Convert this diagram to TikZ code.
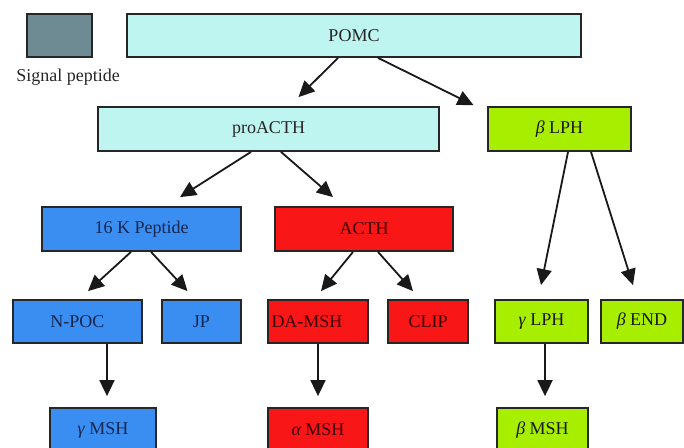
\documentclass[tikz,border=0pt]{standalone}
\usepackage{fontspec}
\setmainfont{Liberation Serif}
\usetikzlibrary{arrows.meta}
\definecolor{cyanbox}{HTML}{BFF5F1}
\definecolor{greybox}{HTML}{6E8A93}
\definecolor{bluebox}{HTML}{3A8EF2}
\definecolor{redbox}{HTML}{F81616}
\definecolor{greenbox}{HTML}{A8EE00}
\definecolor{bluetext}{HTML}{15264F}
\definecolor{redtext}{HTML}{3A0000}
\tikzset{
  box/.style={draw=black!85, line width=1.8pt, rectangle, inner sep=0pt,
    font=\fontsize{18}{20}\selectfont, anchor=center},
  cyanb/.style={box, fill=cyanbox, text=black!85},
  blueb/.style={box, fill=bluebox, text=bluetext},
  redb/.style={box, fill=redbox, text=redtext},
  greenb/.style={box, fill=greenbox, text=black!90},
  arr/.style={draw=black!90, line width=1.8pt, -{Triangle[length=16pt,width=15pt]}},
}
\begin{document}
\begin{tikzpicture}[x=1pt,y=-1pt]
\clip (0,0) rectangle (684,447);
\fill[white] (0,0) rectangle (684,447);
% nodes
\node[box, fill=greybox, minimum width=65pt, minimum height=43pt] (sig) at (59.5,35.5) {};
\node[font=\fontsize{18}{20}\selectfont, text=black!85] (siglabel) at (68,77) {Signal peptide};
\node[cyanb, minimum width=454pt, minimum height=43pt] (pomc) at (354,35.5) {POMC};
\node[cyanb, minimum width=341pt, minimum height=44pt] (proacth) at (268.5,129) {proACTH};
\node[greenb, minimum width=143pt, minimum height=44pt] (blph) at (559.5,129) {{\itshape β} LPH};
\node[blueb, minimum width=199pt, minimum height=44pt] (k16) at (141.5,229) {16 K Peptide};
\node[redb, minimum width=178pt, minimum height=44pt] (acth) at (364,229) {ACTH};
\node[blueb, minimum width=129pt, minimum height=43pt] (npoc) at (77.5,321.5) {N-POC};
\node[blueb, minimum width=79pt, minimum height=43pt] (jp) at (201.5,321.5) {JP};
\node[redb, minimum width=100pt, minimum height=43pt] (damsh) at (318,321.5) {DA-MSH\hspace*{22pt}};
\node[redb, minimum width=80pt, minimum height=43pt] (clip) at (428,321.5) {CLIP};
\node[greenb, minimum width=93pt, minimum height=43pt] (glph) at (541.5,321.5) {{\itshape γ} LPH};
\node[greenb, minimum width=82pt, minimum height=43pt] (bend) at (642,321.5) {{\itshape β} END};
\node[blueb, minimum width=106pt, minimum height=44pt] (gmsh) at (103,430) {{\itshape γ} MSH};
\node[redb, minimum width=100pt, minimum height=44pt] (amsh) at (318,430) {{\itshape α} MSH};
\node[greenb, minimum width=91pt, minimum height=44pt] (bmsh) at (542.5,430) {{\itshape β} MSH};
% arrows
\draw[arr] ([xshift=-16pt]pomc.south) -- ([xshift=30pt,yshift=9pt]proacth.north);
\draw[arr] ([xshift=24pt]pomc.south) -- ([xshift=-86pt,yshift=1pt]blph.north);
\draw[arr] ([xshift=-17.5pt]proacth.south) -- ([xshift=38.5pt,yshift=9pt]k16.north);
\draw[arr] ([xshift=12.5pt]proacth.south) -- ([xshift=-31pt,yshift=9pt]acth.north);
\draw[arr] ([xshift=-10.5pt]k16.south) -- ([xshift=10.5pt,yshift=8pt]npoc.north);
\draw[arr] ([xshift=9.5pt]k16.south) -- ([xshift=-14pt,yshift=8pt]jp.north);
\draw[arr] ([xshift=-11pt]acth.south) -- ([xshift=3pt,yshift=8pt]damsh.north);
\draw[arr] ([xshift=14pt]acth.south) -- ([xshift=-15pt,yshift=8pt]clip.north);
\draw[arr] ([xshift=8.5pt]blph.south) -- ([xshift=-0.5pt,yshift=14pt]glph.north);
\draw[arr] ([xshift=31.5pt]blph.south) -- ([xshift=-9pt,yshift=14pt]bend.north);
\draw[arr] ([xshift=29.5pt]npoc.south) -- ([xshift=4pt,yshift=11pt]gmsh.north);
\draw[arr] (damsh.south) -- ([yshift=11pt]amsh.north);
\draw[arr] ([xshift=3.5pt]glph.south) -- ([xshift=2.5pt,yshift=11pt]bmsh.north);
\end{tikzpicture}
\end{document}
